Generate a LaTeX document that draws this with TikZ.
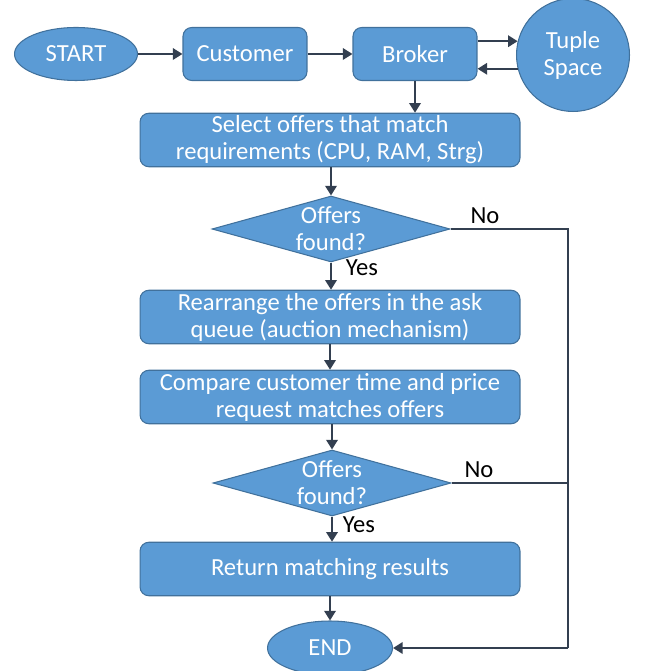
\documentclass[tikz,border=0pt]{standalone}
\usepackage{fontspec}
\setmainfont{Carlito}
\usetikzlibrary{shapes.geometric,arrows.meta}
\definecolor{boxblue}{HTML}{5B9BD5}
\definecolor{boxedge}{HTML}{41719C}
\definecolor{arrowgray}{HTML}{333F50}
\tikzset{
  shape base/.style={fill=boxblue, draw=boxedge, line width=0.6pt, text=white,
    font=\fontsize{14pt}{15.4pt}\selectfont, align=center, inner sep=0pt},
  stepbox/.style={shape base, rectangle, rounded corners=5pt, minimum width=2.48cm, minimum height=1.06cm},
  widebox/.style={shape base, rectangle, rounded corners=5pt, minimum width=7.6cm, minimum height=1.07cm},
  terminal/.style={shape base, ellipse, minimum width=2.46cm, minimum height=1.06cm},
  decision/.style={shape base, diamond, minimum width=4.76cm, minimum height=1.32cm},
  answer/.style={font=\fontsize{14pt}{15.4pt}\selectfont, text=black, inner sep=0pt},
  arr/.style={draw=arrowgray, line width=1.2pt, -{Triangle[width=6.5pt,length=5.5pt]}},
  line/.style={draw=arrowgray, line width=1.2pt}
}
\begin{document}
\begin{tikzpicture}[x=0.02cm, y=-0.02cm]
  \useasboundingbox (0,0) rectangle (649,671);
  % top row
  \node[terminal] (start) at (76,54) {START};
  \node[stepbox] (cust) at (245,54) {Customer};
  \node[stepbox] (broker) at (415,54) {Broker};
  \node[shape base, circle, minimum size=2.26cm] (tuple) at (573,55) {Tuple\\Space};
  % main column
  \node[widebox] (select) at (330,140) {Select offers that match\\requirements (CPU, RAM, Strg)};
  \node[decision, label={[answer, text=white, align=center]center:Offers\\found?}] (dec1) at (331,229) {};
  \node[widebox] (rearr) at (330,317) {Rearrange the offers in the ask\\queue (auction mechanism)};
  \node[widebox] (compare) at (330,397) {Compare customer time and price\\request matches offers};
  \node[decision, label={[answer, text=white, align=center]center:Offers\\found?}] (dec2) at (332,483) {};
  \node[widebox] (result) at (330,569) {Return matching results};
  \node[terminal, minimum width=2.5cm, minimum height=1.08cm] (finish) at (330,648) {END};
  % branch labels
  \node[answer] (no1) at (485,216) {No};
  \node[answer] (yes1) at (362,268) {Yes};
  \node[answer] (no2) at (479,470) {No};
  \node[answer] (yes2) at (359,525) {Yes};
  \coordinate (rail) at (568,0);
  % connectors
  \draw[arr] (start) -- (cust);
  \draw[arr] (cust) -- (broker);
  \draw[arr] (tuple.166 -| broker.east) -- (tuple.166);
  \draw[arr] (tuple.194) -- (tuple.194 -| broker.east);
  \draw[arr] (broker.south) -- (broker.south |- select.north);
  \draw[arr] (select.south -| dec1.north) -- (dec1.north);
  \draw[arr] (dec1.south) -- (dec1.south |- rearr.north);
  \draw[arr] (rearr) -- (compare);
  \draw[arr] (compare.south -| dec2.north) -- (dec2.north);
  \draw[arr] (dec2.south) -- (dec2.south |- result.north);
  \draw[arr] (result) -- (finish);
  \draw[line] (dec1.east) -- (dec1.east -| rail) -- (rail |- finish.east);
  \draw[line] (dec2.east) -- (dec2.east -| rail);
  \draw[arr] (rail |- finish.east) -- (finish.east);
\end{tikzpicture}
\end{document}
